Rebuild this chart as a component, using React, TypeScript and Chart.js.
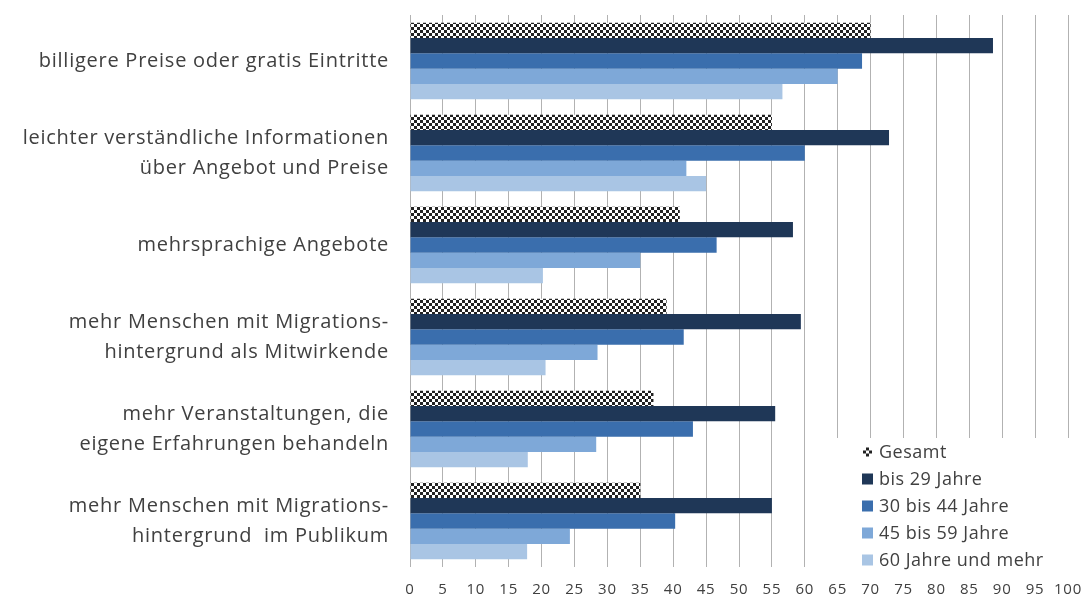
import React, { useEffect, useRef } from 'react';
import { Chart, registerables } from 'chart.js';

Chart.register(...registerables);

const categories: string[][] = [
  ['billigere Preise oder gratis Eintritte'],
  ['leichter verständliche Informationen', 'über Angebot und Preise'],
  ['mehrsprachige Angebote'],
  ['mehr Menschen mit Migrations-', 'hintergrund als Mitwirkende'],
  ['mehr Veranstaltungen, die', 'eigene Erfahrungen behandeln'],
  ['mehr Menschen mit Migrations-', 'hintergrund  im Publikum'],
];

const seriesNames = ['Gesamt', 'bis 29 Jahre', '30 bis 44 Jahre', '45 bis 59 Jahre', '60 Jahre und mehr'];
const gesamt = [70, 55, 41, 39, 37, 35];
const bis29 = [88.6, 72.8, 58.2, 59.4, 55.5, 55];
const age30to44 = [68.7, 60, 46.6, 41.6, 43, 40.3];
const age45to59 = [65, 42, 35, 28.5, 28.3, 24.3];
const age60plus = [56.6, 45, 20.2, 20.6, 17.9, 17.8];

const xMin = 0;
const xMax = 100;
const xStep = 5;

const seriesColors = ['checker', '#1F3757', '#3A6EAD', '#7EA8D8', '#A9C5E4'];
const FONT = "'Open Sans', 'Noto Sans', sans-serif";
const TEXT = '#404040';
const GRID = '#B2B2B2';
const SPACING = '0.75px';

function makeChecker(ctx: CanvasRenderingContext2D) {
  const c = document.createElement('canvas');
  c.width = 6;
  c.height = 6;
  const g = c.getContext('2d')!;
  g.fillStyle = '#ffffff';
  g.fillRect(0, 0, 6, 6);
  g.fillStyle = '#222222';
  g.fillRect(0, 0, 3, 3);
  g.fillRect(3, 3, 3, 3);
  return ctx.createPattern(c, 'repeat')!;
}

export default function App() {
  const ref = useRef<HTMLCanvasElement>(null);

  useEffect(() => {
    const canvas = ref.current!;
    const ctx = canvas.getContext('2d')! as any;
    const checker = makeChecker(ctx);
    const values = [gesamt, bis29, age30to44, age45to59, age60plus];

    const spacingPlugin = {
      id: 'letterSpacing',
      beforeUpdate(chart: any) {
        chart.ctx.letterSpacing = SPACING;
      },
      beforeLayout(chart: any) {
        chart.ctx.letterSpacing = SPACING;
      },
      beforeDraw(chart: any) {
        chart.ctx.letterSpacing = SPACING;
      },
    };

    const legendPlugin = {
      id: 'customLegend',
      afterDraw(chart: any) {
        const c = chart.ctx as any;
        const area = chart.chartArea;
        c.save();
        c.letterSpacing = '0.5px';
        c.fillStyle = '#ffffff';
        c.fillRect(833, 438, 1084 - 833, area.bottom - 438 + 0.5);
        const x0 = 862;
        const y0 = 452;
        const dy = 27;
        c.font = `18px ${FONT}`;
        c.textBaseline = 'middle';
        c.textAlign = 'left';
        seriesNames.forEach((name, i) => {
          const cy = y0 + i * dy;
          if (i === 0) {
            c.fillStyle = '#ffffff';
            c.fillRect(x0 + 1, cy - 4.5, 9, 9);
            c.fillStyle = '#222222';
            const s = 3;
            const bx = x0 + 1;
            const by = cy - 4.5;
            c.fillRect(bx + s, by, s, s);
            c.fillRect(bx, by + s, s, s);
            c.fillRect(bx + 2 * s, by + s, s, s);
            c.fillRect(bx + s, by + 2 * s, s, s);
          } else {
            c.fillStyle = seriesColors[i];
            c.fillRect(x0, cy - 5.5, 11, 11);
          }
          c.fillStyle = TEXT;
          c.fillText(name, x0 + 17, cy + 1);
        });
        c.restore();
      },
    };

    const chart = new Chart(ctx, {
      type: 'bar',
      data: {
        labels: categories,
        datasets: seriesNames.map((name, i) => ({
          label: name,
          data: values[i],
          backgroundColor: i === 0 ? (checker as any) : seriesColors[i],
          borderWidth: 0,
          categoryPercentage: 0.83,
          barPercentage: 1.0,
        })),
      },
      options: {
        indexAxis: 'y',
        responsive: false,
        animation: false,
        layout: { padding: { left: 0, right: 16, top: 15, bottom: 0 } },
        plugins: {
          legend: { display: false },
          tooltip: { enabled: false },
        },
        scales: {
          x: {
            min: xMin,
            max: xMax,
            afterFit(scale: any) {
              scale.paddingLeft = 0;
              scale.paddingRight = 0;
              scale.height = 32;
            },
            ticks: {
              stepSize: xStep,
              autoSkip: false,
              color: TEXT,
              font: { family: FONT, size: 15, lineHeight: 1.2 },
              padding: 14,
              maxRotation: 0,
            },
            grid: { color: GRID, lineWidth: 1, drawTicks: false },
            border: { display: false },
          },
          y: {
            afterFit(scale: any) {
              scale.width = 410;
              scale.paddingTop = 0;
              scale.paddingBottom = 0;
            },
            ticks: {
              color: TEXT,
              font: { family: FONT, size: 20, lineHeight: 1.5 },
              padding: 21,
            },
            grid: { display: false, drawTicks: false },
            border: { display: false },
          },
        },
      },
      plugins: [spacingPlugin, legendPlugin],
    } as any);

    return () => chart.destroy();
  }, []);

  return (
    <div style={{ position: 'absolute', left: 0, top: 0, width: 1084, height: 599, background: '#fff' }}>
      <canvas ref={ref} width={1084} height={599} style={{ display: 'block' }} />
    </div>
  );
}
